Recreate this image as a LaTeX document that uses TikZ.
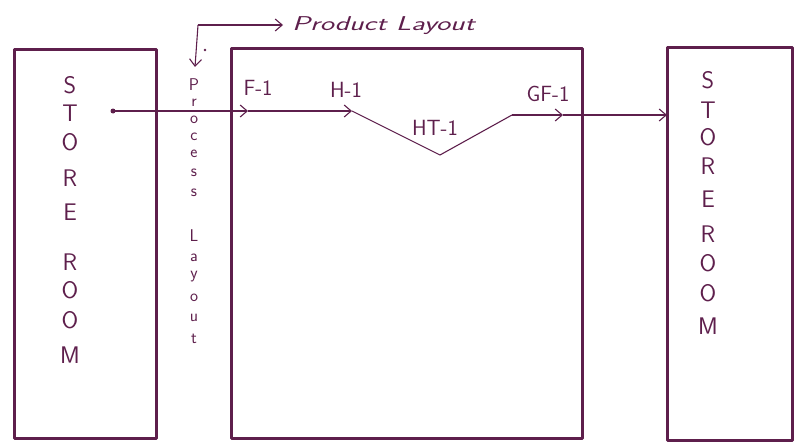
\documentclass[tikz,border=0pt]{standalone}
\usepackage{graphicx}
\usetikzlibrary{arrows.meta}
\definecolor{ink}{HTML}{5E1F4C}
\tikzset{
  wall/.style={draw=ink, line width=3pt, line join=round},
  flow/.style={draw=ink, line width=1.1pt, -{Straight Barb[length=7pt,width=12pt]}},
  plain/.style={draw=ink, line width=1.1pt},
  vlet/.style={text=ink, font=\sffamily\fontsize{24}{24}\selectfont, inner sep=0pt},
  plet/.style={text=ink, font=\sffamily\fontsize{17}{17}\selectfont, inner sep=0pt},
  lab/.style={text=ink, font=\sffamily\fontsize{22}{22}\selectfont, inner sep=0pt},
}
\begin{document}
\begin{tikzpicture}[x=1pt,y=-1pt]
\useasboundingbox (0,0) rectangle (798,444);
% boxes
\draw[wall] (14,50) rectangle (156,438);
\draw[wall] (231,49) rectangle (582,438);
\draw[wall] (667,48) rectangle (792,440);
\coordinate (rw) at (667,115);
% left store room
\foreach \l/\y in {S/85,T/113,O/142,R/178,E/212,R/262,O/290,O/320,M/355}
  \node[vlet] at (70,\y) {\l};
% right store room
\foreach \l/\y in {S/80,T/110,O/137,R/166,E/199,R/234,O/263,O/293,M/326}
  \node[vlet] at (708,\y) {\l};
% process layout
\foreach \l/\y in {P/85,r/103,o/120,c/137,e/154,s/173,s/193,L/236,a/258,y/277,o/298,u/318,t/339}
  \node[plet] at (194,\y) {\l};
% product layout pointer
\coordinate (pc) at (198,25);
\coordinate (pd) at (195,67);
\coordinate (pe) at (283,25);
\node[lab, anchor=west, font=\sffamily\itshape\fontsize{20}{20}\selectfont] (prod) at (292,26) {\scalebox{1.5}[1]{Product Layout}};
\draw[flow] (pc) -- (pe);
\draw[flow] (pc) -- (pd);
\fill[ink] (205,50) circle (1.3pt);
% main flow
\coordinate (st) at (113,111);
\coordinate (f1) at (248,111);
\coordinate (h1) at (352,111);
\coordinate (v) at (440,155);
\coordinate (g) at (512,115);
\coordinate (gf) at (563,115);
\fill[ink] (st) circle (2.5pt);
\draw[flow] (st) -- (f1);
\draw[flow] (f1) -- (h1);
\draw[plain] (h1) -- (v) -- (g);
\draw[flow] (g) -- (gf);
\draw[flow] (gf) -- (rw);
% labels
\node[lab] (lf) at (258,88) {F-1};
\node[lab] (lh) at (346,90) {H-1};
\node[lab] (lht) at (435,128) {HT-1};
\node[lab] (lgf) at (548,94) {GF-1};
\end{tikzpicture}
\end{document}
